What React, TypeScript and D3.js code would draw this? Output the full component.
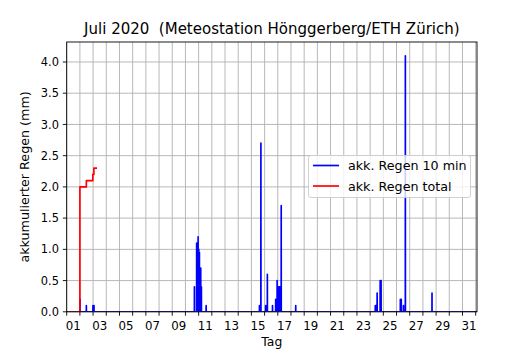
import React, { useEffect } from "react";
import * as d3 from "d3";

// Tick labels (days of July 2020)
const dayLabels = ["01","03","05","07","09","11","13","15","17","19","21","23","25","27","29","31"];
const yTicks = [0, 0.5, 1.0, 1.5, 2.0, 2.5, 3.0, 3.5, 4.0];

// Time in days since 1 July 00:00, values in mm
const spikeTimes = [
  1.01, 1.49, 1.99, 2.07,
  9.68, 9.85, 9.91, 9.96, 10.01, 10.06, 10.11, 10.16, 10.21, 10.57,
  14.61, 14.72, 15.08, 15.21, 15.6, 15.84, 15.95, 16.03, 16.1, 16.15, 16.26, 17.36,
  23.39, 23.45, 23.53, 23.76, 23.83, 25.29, 25.36, 25.53, 25.67, 27.69,
];
const spikeValues = [
  0.2, 0.1, 0.1, 0.1,
  0.4, 1.1, 1.05, 1.2, 1.0, 0.95, 0.7, 0.7, 0.4, 0.1,
  0.1, 2.7, 0.1, 0.6, 0.1, 0.2, 0.5, 0.4, 0.4, 0.4, 1.7, 0.1,
  0.1, 0.1, 0.3, 0.5, 0.5, 0.2, 0.2, 0.1, 4.1, 0.3,
];
const tenMinStart = 1.0;
const tenMinEnd = 31.1;

const totalTimes = [0, 1.0, 1.49, 1.98, 2.06, 2.3];
const totalValues = [0, 2.0, 2.1, 2.2, 2.3, 2.3];

const W = 530, H = 350;
const L = 66.7, R = 477, T = 42, B = 311.8;
const FONT = "DejaVu Sans, sans-serif";

export default function App() {
  useEffect(() => { document.body.style.margin = "0"; }, []);
  const x = d3.scaleLinear().domain([0, 31.1]).range([L, R]);
  const y = d3.scaleLinear().domain([0, 4.32]).range([B, T]);

  const eps = 0.004;
  const pts: [number, number][] = [[tenMinStart, 0]];
  spikeTimes.forEach((t, i) => {
    pts.push([t - eps, 0], [t, spikeValues[i]], [t + eps, 0]);
  });
  pts.push([tenMinEnd, 0]);
  const line = d3.line<[number, number]>().x(d => x(d[0])).y(d => y(d[1]));
  const bluePath = line(pts) || "";

  const totalPts: [number, number][] = totalTimes.map((t, i) => [t, totalValues[i]]);
  const redPath = d3.line<[number, number]>().x(d => x(d[0])).y(d => y(d[1])).curve(d3.curveStepAfter)(totalPts) || "";

  const dayTicks = d3.range(0, 32);

  return (
    <svg width={W} height={H} style={{ display: "block", position: "absolute", left: 0, top: 0 }} fontFamily={FONT}>
      <rect x={0} y={0} width={W} height={H} fill="white" />
      <defs>
        <clipPath id="plotclip">
          <rect x={L} y={T} width={R - L} height={B - T} />
        </clipPath>
      </defs>
      {/* grid */}
      {dayTicks.map(d => (
        <line key={"gx" + d} x1={x(d)} x2={x(d)} y1={T} y2={B} stroke="#b0b0b0" strokeWidth={0.9} />
      ))}
      {yTicks.map(v => (
        <line key={"gy" + v} x1={L} x2={R} y1={y(v)} y2={y(v)} stroke="#b0b0b0" strokeWidth={0.9} />
      ))}
      {/* data */}
      <g clipPath="url(#plotclip)">
        <path d={bluePath} fill="none" stroke="#0000ff" strokeWidth={1.67} strokeLinejoin="round" />
        <path d={redPath} fill="none" stroke="#ff0000" strokeWidth={1.67} strokeLinejoin="round" />
      </g>
      {/* spines */}
      <rect x={L} y={T} width={R - L} height={B - T} fill="none" stroke="black" strokeWidth={0.9} />
      {/* x ticks */}
      {dayTicks.map(d => (
        <line key={"tx" + d} x1={x(d)} x2={x(d)} y1={B} y2={B + 3.9} stroke="black" strokeWidth={0.9} />
      ))}
      {dayLabels.map((lab, i) => (
        <text key={"lx" + lab} x={x(2 * i + 0.5)} y={330} fontSize={11.8} textAnchor="middle" fill="black">{lab}</text>
      ))}
      {/* y ticks */}
      {yTicks.map(v => (
        <g key={"ty" + v}>
          <line x1={L - 3.9} x2={L} y1={y(v)} y2={y(v)} stroke="black" strokeWidth={0.9} />
          <text x={L - 7.8} y={y(v)} dy="0.36em" fontSize={11.4} textAnchor="end" fill="black">{v.toFixed(1)}</text>
        </g>
      ))}
      {/* labels */}
      <text x={(L + R) / 2} y={346} fontSize={12.4} textAnchor="middle">Tag</text>
      <text transform={`translate(29,${(T + B) / 2}) rotate(-90)`} fontSize={12.7} textAnchor="middle">akkumulierter Regen (mm)</text>
      <text x={(L + R) / 2} y={34} fontSize={15} textAnchor="middle" style={{ whiteSpace: "pre" }}>Juli 2020  (Meteostation Hönggerberg/ETH Zürich)</text>
      {/* legend */}
      <g>
        <rect x={308.5} y={155.5} width={162} height={42} rx={2.5} fill="white" fillOpacity={0.8} stroke="#cccccc" strokeWidth={0.9} />
        <line x1={313} x2={339} y1={165.5} y2={165.5} stroke="#0000ff" strokeWidth={1.67} />
        <text x={348} y={165.5} dy="0.36em" fontSize={12.7}>akk. Regen 10 min</text>
        <line x1={313} x2={339} y1={186} y2={186} stroke="#ff0000" strokeWidth={1.67} />
        <text x={348} y={186} dy="0.36em" fontSize={12.7}>akk. Regen total</text>
      </g>
    </svg>
  );
}
